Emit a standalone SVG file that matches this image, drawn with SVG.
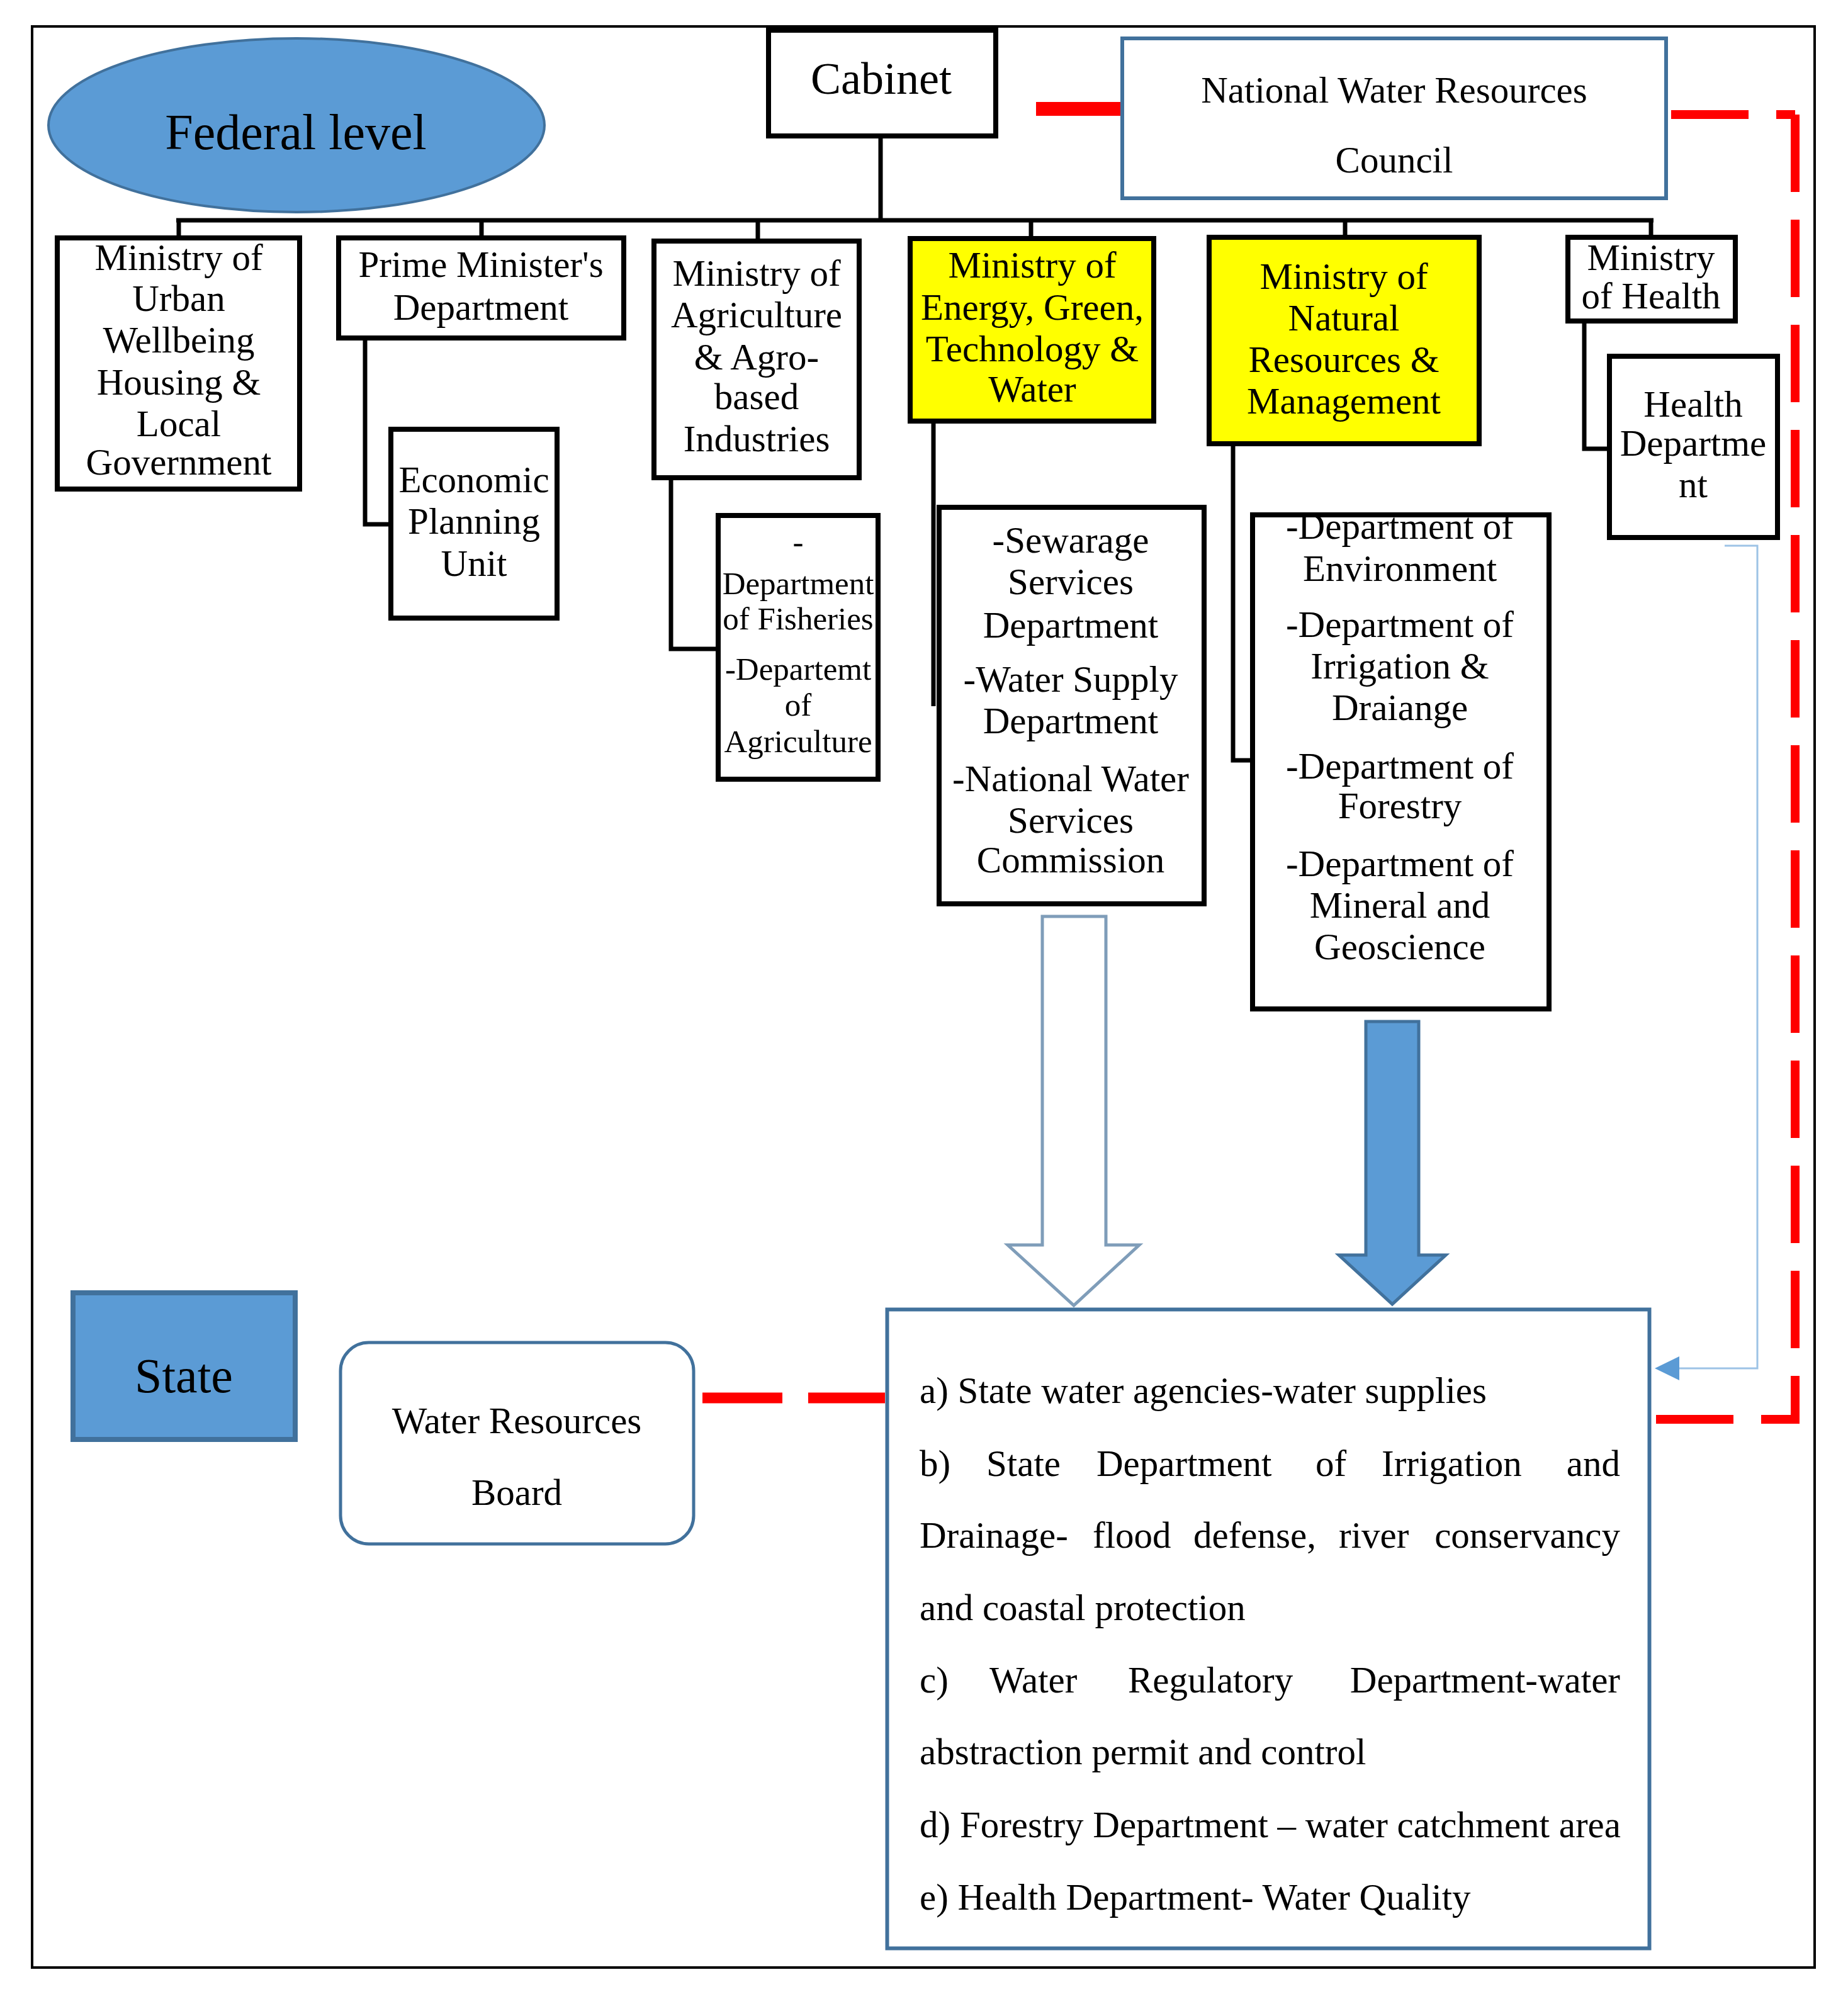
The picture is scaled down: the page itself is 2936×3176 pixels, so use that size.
<svg xmlns="http://www.w3.org/2000/svg" width="2936" height="3176" viewBox="0 0 2936 3176">
<style>
text{font-family:"Liberation Serif","Times New Roman",serif;font-size:59px;fill:#000;text-anchor:middle}
.box{fill:#fff;stroke:#000;stroke-width:8}
.yel{fill:#ffff00;stroke:#000;stroke-width:8}
.blu{fill:#fff;stroke:#41719c;stroke-width:6}
.con{fill:none;stroke:#000;stroke-width:7}
.red{fill:none;stroke:#ff0000}
.lt{text-anchor:start}
.sm{font-size:51px}
</style>
<rect x="0" y="0" width="2936" height="3176" fill="#fff"/>
<rect id="frame" x="51" y="42" width="2832" height="3084" fill="none" stroke="#000" stroke-width="4"/>

<g id="connectors">
  <path class="con" d="M280,350 H2627 M284,350 V374 M765,350 V374 M1204,350 V380 M1638,350 V375 M2137,350 V373 M2623,350 V373 M1399,220 V350"/>
  <path class="con" d="M580,541 V833 H617"/>
  <path class="con" d="M1066,763 V1031 H1137"/>
  <path class="con" d="M1483,673 V1122"/>
  <path class="con" d="M1959,709 V1208 H1986"/>
  <path class="con" d="M2517,514 V713 H2553"/>
  <line class="red" x1="1646" y1="173" x2="1797" y2="173" stroke-width="22"/>
  <line class="red" x1="2655" y1="182" x2="2778" y2="182" stroke-width="14"/>
  <line class="red" x1="2822" y1="182" x2="2852" y2="182" stroke-width="14"/>
  <path class="red" d="M2852,182 V2255 H2619" stroke-width="14" stroke-dasharray="123 44"/>
  <path class="red" d="M1116,2221 H1243 M1284,2221 H1406" stroke-width="17"/>
  <path d="M2740,867 H2792 V2174 H2664" fill="none" stroke="#9dc3e6" stroke-width="3"/>
  <polygon points="2629,2174 2668,2155 2668,2193" fill="#5b9bd5"/>
  <polygon id="hollow-arrow" points="1656,1456 1757,1456 1757,1978 1810,1978 1706,2074 1601,1978 1656,1978" fill="#fff" stroke="#7f9db9" stroke-width="5"/>
  <polygon id="filled-arrow" points="2170,1623 2254,1623 2254,1994 2297,1994 2212,2072 2127,1994 2170,1994" fill="#5b9bd5" stroke="#41719c" stroke-width="5"/>
</g>

<g id="federal">
  <ellipse cx="471" cy="199" rx="394" ry="138" fill="#5b9bd5" stroke="#41719c" stroke-width="4"/>
  <text x="470" y="237" style="font-size:80px">Federal level</text>
</g>

<g id="cabinet">
  <rect class="box" x="1221" y="48" width="361" height="168"/>
  <text x="1400" y="149" style="font-size:72px">Cabinet</text>
</g>

<g id="nwrc">
  <rect class="blu" x="1783" y="61" width="864" height="254"/>
  <text x="2215" y="163">National Water Resources</text>
  <text x="2215" y="274">Council</text>
</g>

<g id="urban">
  <rect class="box" x="91" y="378" width="385" height="399"/>
  <text x="284" y="429">Ministry of</text>
  <text x="284" y="494">Urban</text>
  <text x="284" y="560">Wellbeing</text>
  <text x="284" y="627">Housing &amp;</text>
  <text x="284" y="693">Local</text>
  <text x="284" y="754">Government</text>
</g>

<g id="pm">
  <rect class="box" x="538" y="378" width="453" height="159"/>
  <text x="764" y="440">Prime Minister's</text>
  <text x="764" y="508">Department</text>
</g>

<g id="epu">
  <rect class="box" x="621" y="682" width="264" height="300"/>
  <text x="753" y="782">Economic</text>
  <text x="753" y="848">Planning</text>
  <text x="753" y="915">Unit</text>
</g>

<g id="agri">
  <rect class="box" x="1039" y="383" width="326" height="376"/>
  <text x="1202" y="454">Ministry of</text>
  <text x="1202" y="520">Agriculture</text>
  <text x="1202" y="587">&amp; Agro-</text>
  <text x="1202" y="650">based</text>
  <text x="1202" y="717">Industries</text>
</g>

<g id="fisheries">
  <rect class="box" x="1141" y="819" width="254" height="419"/>
  <text class="sm" x="1268" y="878">-</text>
  <text class="sm" x="1268" y="944">Department</text>
  <text class="sm" x="1268" y="1000">of Fisheries</text>
  <text class="sm" x="1268" y="1080">-Departemt</text>
  <text class="sm" x="1268" y="1137">of</text>
  <text class="sm" x="1268" y="1195">Agriculture</text>
</g>

<g id="energy">
  <rect class="yel" x="1446" y="379" width="387" height="290"/>
  <text x="1640" y="441">Ministry of</text>
  <text x="1640" y="508">Energy, Green,</text>
  <text x="1640" y="574">Technology &amp;</text>
  <text x="1640" y="638">Water</text>
</g>

<g id="sewarage">
  <rect class="box" x="1492" y="806" width="421" height="630"/>
  <text x="1701" y="878">-Sewarage</text>
  <text x="1701" y="944">Services</text>
  <text x="1701" y="1013">Department</text>
  <text x="1701" y="1099">-Water Supply</text>
  <text x="1701" y="1165">Department</text>
  <text x="1701" y="1257">-National Water</text>
  <text x="1701" y="1323">Services</text>
  <text x="1701" y="1386">Commission</text>
</g>

<g id="nrm">
  <rect class="yel" x="1921" y="377" width="429" height="328"/>
  <text x="2135" y="459">Ministry of</text>
  <text x="2135" y="525">Natural</text>
  <text x="2135" y="591">Resources &amp;</text>
  <text x="2135" y="657">Management</text>
</g>

<g id="nrm-depts">
  <rect class="box" x="1990" y="818" width="471" height="785"/>
  <text x="2224" y="856">-Department of</text>
  <text x="2224" y="923">Environment</text>
  <text x="2224" y="1012">-Department of</text>
  <text x="2224" y="1078">Irrigation &amp;</text>
  <text x="2224" y="1144">Draiange</text>
  <text x="2224" y="1237">-Department of</text>
  <text x="2224" y="1300">Forestry</text>
  <text x="2224" y="1392">-Department of</text>
  <text x="2224" y="1458">Mineral and</text>
  <text x="2224" y="1524">Geoscience</text>
</g>

<g id="moh">
  <rect class="box" x="2491" y="377" width="266" height="133"/>
  <text x="2623" y="429">Ministry</text>
  <text x="2623" y="490">of Health</text>
</g>

<g id="health-dept">
  <rect class="box" x="2557" y="566" width="267" height="288"/>
  <text x="2690" y="662">Health</text>
  <text x="2690" y="724">Departme</text>
  <text x="2690" y="790">nt</text>
</g>

<g id="state">
  <rect x="116" y="2054" width="353" height="233" fill="#5b9bd5" stroke="#41719c" stroke-width="8"/>
  <text x="292" y="2212" style="font-size:78px">State</text>
</g>

<g id="wrb">
  <rect x="541" y="2133" width="561" height="320" rx="45" ry="45" fill="#fff" stroke="#41719c" stroke-width="5"/>
  <text x="821" y="2277">Water Resources</text>
  <text x="821" y="2391">Board</text>
</g>

<g id="state-agencies">
  <rect class="blu" x="1409.5" y="2080.5" width="1211" height="1015" stroke-width="7"/>
  <text class="lt" x="1461" y="2229">a) State water agencies-water supplies</text>
  <text class="lt" y="2345"><tspan x="1461">b)</tspan><tspan x="1567">State</tspan><tspan x="1742">Department</tspan><tspan x="2090">of</tspan><tspan x="2195">Irrigation</tspan></text>
  <text x="2574" y="2345" style="text-anchor:end">and</text>
  <text class="lt" y="2459"><tspan x="1461">Drainage-</tspan><tspan x="1736">flood</tspan><tspan x="1896">defense,</tspan><tspan x="2127">river</tspan></text>
  <text x="2574" y="2459" style="text-anchor:end">conservancy</text>
  <text class="lt" x="1461" y="2574">and coastal protection</text>
  <text class="lt" y="2689"><tspan x="1461">c)</tspan><tspan x="1572">Water</tspan><tspan x="1792">Regulatory</tspan></text>
  <text x="2574" y="2689" style="text-anchor:end">Department-water</text>
  <text class="lt" x="1461" y="2803">abstraction permit and control</text>
  <text class="lt" x="1461" y="2919">d) Forestry Department – water catchment area</text>
  <text class="lt" x="1461" y="3034">e) Health Department- Water Quality</text>
</g>
</svg>
